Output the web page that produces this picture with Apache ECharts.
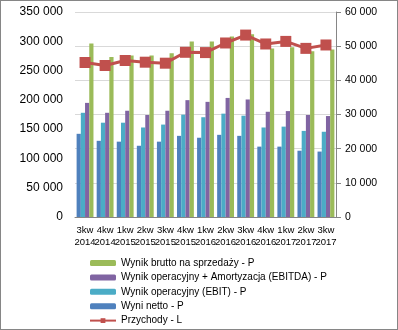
<!DOCTYPE html>
<html><head><meta charset="utf-8">
<script src="https://cdn.jsdelivr.net/npm/echarts@6/dist/echarts.min.js"></script>
<style>html,body{margin:0;padding:0;background:#fff}#c{width:398px;height:330px;box-sizing:border-box;border:1px solid #868686}</style>
</head><body><div id="c"></div>
<script>
const categories = ['3kw\n2014','4kw\n2014','1kw\n2015','2kw\n2015','3kw\n2015','4kw\n2015','1kw\n2016','2kw\n2016','3kw\n2016','4kw\n2016','1kw\n2017','2kw\n2017','3kw\n2017'];
const brutto = [50800,46800,47250,47250,47900,51400,51400,52850,53500,49350,49650,48500,49000];
const ebitda = [33400,30500,31100,29850,31100,34200,33700,34850,34400,30800,31000,29850,29550];
const ebit = [30500,27600,27600,26200,27050,29950,29200,30250,29650,26200,26450,25200,24950];
const netto = [24350,22300,22050,20850,22050,23750,23200,24050,23750,20600,20600,19400,19150];
const przychody = [263800,258700,267200,264300,262600,281200,280700,297100,310600,295400,299800,287900,293700];
const leftTicks = {min:0, max:350000, interval:50000};
const rightTicks = {min:0, max:60000, interval:10000};
const names = ['Wynik brutto na sprzedaży - P','Wynik operacyjny + Amortyzacja (EBITDA) - P','Wynik operacyjny (EBIT) - P','Wyni netto - P','Przychody - L'];

const fmt = v => String(v).replace(/\B(?=(\d{3})+(?!\d))/g,' ');
const font = 'Liberation Sans';
const chart = echarts.init(document.getElementById('c'));
const bar = (name, data, color) => ({name, type:'bar', yAxisIndex:1, data, itemStyle:{color}, barGap:'0%', barCategoryGap:'16%'});
chart.setOption({
  animation:false,
  textStyle:{fontFamily:font},
  grid:{left:74, right:61, top:11, bottom:112},
  legend:{orient:'vertical', left:88, top:256, height:100, padding:0, itemWidth:26, itemHeight:6, itemGap:2.4,
    data:names, textStyle:{fontSize:10, color:'#000', lineHeight:12, fontFamily:font}},
  xAxis:{type:'category', data:categories,
    axisLine:{lineStyle:{color:'#868686'}}, axisTick:{length:5, lineStyle:{color:'#868686'}},
    axisLabel:{interval:0, fontSize:9.5, color:'#000', lineHeight:12, margin:7, fontFamily:font}},
  yAxis:[
    {type:'value', min:leftTicks.min, max:leftTicks.max, interval:leftTicks.interval,
     axisLine:{show:false}, axisTick:{show:false}, splitLine:{show:false},
     axisLabel:{formatter:fmt, fontSize:12, color:'#000', margin:12, fontFamily:font}},
    {type:'value', min:rightTicks.min, max:rightTicks.max, interval:rightTicks.interval, position:'right',
     axisLine:{show:true, lineStyle:{color:'#868686'}}, axisTick:{show:true, length:5, lineStyle:{color:'#868686'}},
     splitLine:{lineStyle:{color:'#D9D9D9'}},
     axisLabel:{formatter:fmt, fontSize:10.5, color:'#000', margin:9, fontFamily:font}}
  ],
  series:[
    bar(names[3], netto, '#4F81BD'),
    bar(names[2], ebit, '#4BACC6'),
    bar(names[1], ebitda, '#8064A2'),
    bar(names[0], brutto, '#9BBB59'),
    {name:names[4], type:'line', yAxisIndex:0, data:przychody, z:5,
     symbol:'rect', symbolSize:11, lineStyle:{color:'#C0504D', width:3},
     itemStyle:{color:'#C0504D'}}
  ]
});
</script></body></html>
